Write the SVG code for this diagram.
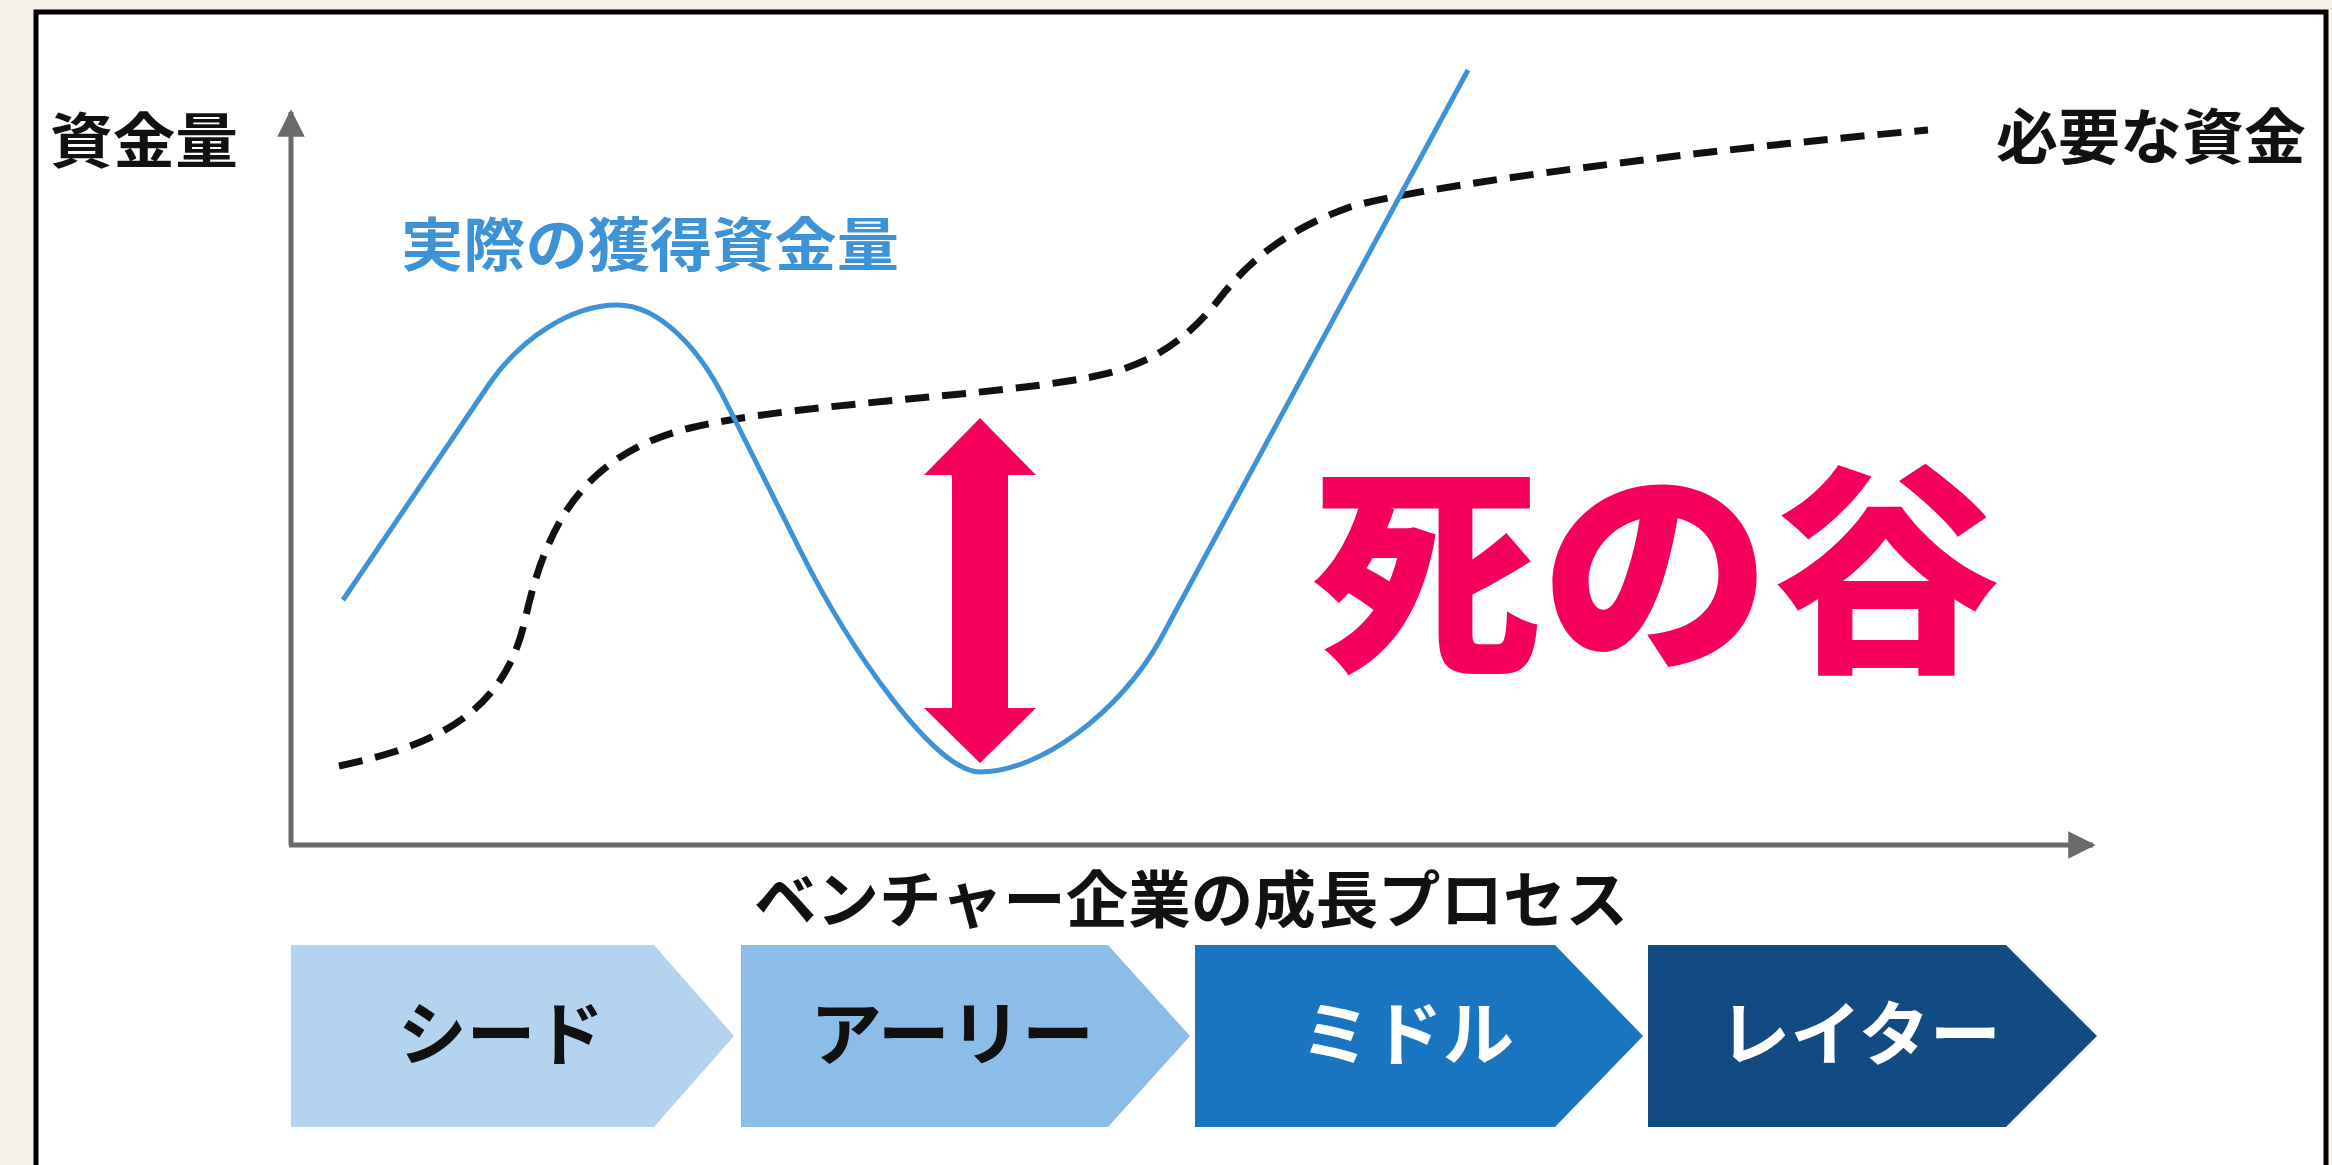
<svg xmlns="http://www.w3.org/2000/svg" width="2332" height="1165" viewBox="0 0 2332 1165">
  <style>
    text { font-family: 'Noto Sans CJK JP', 'Noto Sans', sans-serif; font-weight: 700; }
    .lbl { fill: #111; font-size: 60px; }
    .axis { stroke: #6a6a6a; stroke-width: 5; fill: none; }
    .need { stroke: #111; stroke-width: 7; fill: none; stroke-dasharray: 24 13; }
    .actual { stroke: #3e92d6; stroke-width: 5; fill: none; stroke-linejoin: round; }
    .stage { font-size: 70px; }
  </style>
  <defs>
    <marker id="axhead" viewBox="0 0 10 10" refX="9" refY="5" markerWidth="5.5" markerHeight="5.5" markerUnits="strokeWidth" orient="auto">
      <path d="M0,0 L10,5 L0,10 Z" fill="#6a6a6a"/>
    </marker>
  </defs>

  <rect x="0" y="0" width="2332" height="1165" fill="#f6f2ea"/>
  <rect id="frame" x="36" y="12" width="2290" height="1170" fill="#ffffff" stroke="#000" stroke-width="5"/>

  <g id="connectors">
    <path id="y-axis" class="axis" d="M291,845 L291,112" marker-end="url(#axhead)"/>
    <path id="x-axis" class="axis" d="M289,845 L2093,845" marker-end="url(#axhead)"/>
    <path id="required-funds" class="need" d="M339,766 C440,745 505,710 525,620 C545,530 580,455 690,428 C800,401 1040,395 1120,370 C1165,356 1195,330 1220,298 C1245,266 1280,232 1350,207 C1420,186 1700,150 1928,130"/>
    <path id="actual-funds" class="actual" d="M343,600 L490,383 C520,340 570,305 617,305 C660,305 700,350 725,400 L800,550 C850,650 935,772 980,772 C1040,772 1120,712 1160,640 L1468,70"/>
  </g>

  <g id="gap-arrow">
    <polygon points="980,418 1036,475 1008,475 1008,708 1036,708 980,763 924,708 952,708 952,475 924,475" fill="#f5005a"/>
  </g>

  <g id="label-y">
    <text class="lbl" x="50" y="163" textLength="188" lengthAdjust="spacingAndGlyphs">資金量</text>
  </g>
  <g id="label-required">
    <text class="lbl" x="1996" y="159" textLength="310" lengthAdjust="spacingAndGlyphs">必要な資金</text>
  </g>
  <g id="label-actual">
    <text x="401" y="266" font-size="58" fill="#3e92d6" textLength="498" lengthAdjust="spacingAndGlyphs">実際の獲得資金量</text>
  </g>
  <g id="label-valley">
    <text x="1311" y="654" font-size="224" fill="#f5005a" style="font-weight:900" textLength="690" lengthAdjust="spacingAndGlyphs">死の谷</text>
  </g>
  <g id="label-x">
    <text class="lbl" x="754" y="923" style="font-size:62px" textLength="874" lengthAdjust="spacingAndGlyphs">ベンチャー企業の成長プロセス</text>
  </g>

  <g id="stage-seed">
    <polygon points="291,945 654,945 734,1036 654,1127 291,1127" fill="#b3d3ef"/>
    <text class="stage" x="501" y="1060" text-anchor="middle" fill="#111" textLength="206" lengthAdjust="spacingAndGlyphs">シード</text>
  </g>
  <g id="stage-early">
    <polygon points="741,945 1108,945 1190,1036 1108,1127 741,1127" fill="#8bbde8"/>
    <text class="stage" x="952" y="1060" text-anchor="middle" fill="#111" textLength="284" lengthAdjust="spacingAndGlyphs">アーリー</text>
  </g>
  <g id="stage-middle">
    <polygon points="1195,945 1555,945 1643,1036 1555,1127 1195,1127" fill="#1a75c0"/>
    <text class="stage" x="1407" y="1060" text-anchor="middle" fill="#ffffff" textLength="214" lengthAdjust="spacingAndGlyphs">ミドル</text>
  </g>
  <g id="stage-later">
    <polygon points="1648,945 2006,945 2097,1036 2006,1127 1648,1127" fill="#114b82"/>
    <text class="stage" x="1860" y="1060" text-anchor="middle" fill="#ffffff" textLength="282" lengthAdjust="spacingAndGlyphs">レイター</text>
  </g>
</svg>
